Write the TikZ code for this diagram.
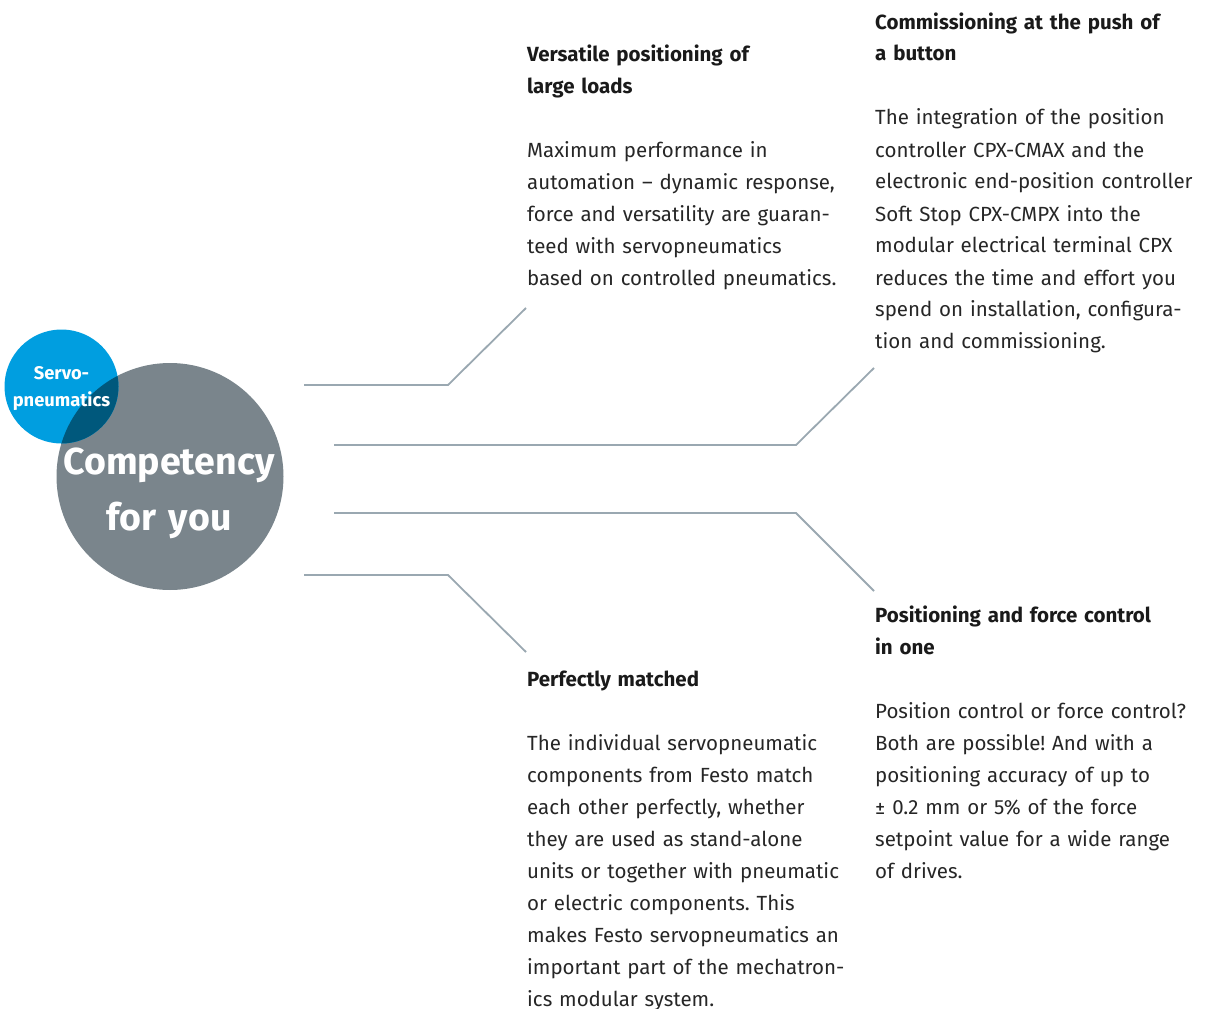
\documentclass[tikz,border=0pt]{standalone}
\usepackage{fontspec}
\setmainfont{Fira Sans}
\frenchspacing
\definecolor{festoblue}{HTML}{009EE0}
\definecolor{festogray}{HTML}{7A858C}
\definecolor{overlapblue}{HTML}{00587C}
\definecolor{linegray}{HTML}{9AA8B1}
\definecolor{headtext}{HTML}{1A1A1A}
\definecolor{bodytext}{HTML}{262626}
\begin{document}
\begin{tikzpicture}[x=1pt,y=-1pt,
  conn/.style={draw=linegray,line width=1.8pt},
  textblock/.style={anchor=base west,inner sep=0pt,text width=340pt,align=left,
    text=bodytext,font=\fontsize{20.5}{32}\selectfont}]
\useasboundingbox (0,0) rectangle (1208,1009);
% circles
\node[circle,fill=festogray,minimum size=227pt,inner sep=0pt] (big) at (170,476.5) {};
\node[circle,fill=festoblue,minimum size=114pt,inner sep=0pt] (small) at (61.5,386.5) {};
\begin{scope}
  \clip (61.5,386.5) circle (57pt);
  \fill[overlapblue] (170,476.5) circle (113.5pt);
\end{scope}
\node[text=white,font=\bfseries\fontsize{18.3}{27}\selectfont,align=center,inner sep=0pt] (servo) at (61.5,389) {Servo-\\pneumatics};
\node[text=white,font=\bfseries\fontsize{37.5}{56}\selectfont,text width=240pt,align=center,inner sep=0pt,anchor=base] (comp) at (169,474) {Competency\\for you};
% connector coordinates
\coordinate (a0) at (304,385);  \coordinate (a1) at (448,385);  \coordinate (a2) at (526,308);
\coordinate (b0) at (334,445);  \coordinate (b1) at (796,445);  \coordinate (b2) at (874,368);
\coordinate (c0) at (334,513);  \coordinate (c1) at (796,513);  \coordinate (c2) at (874,591);
\coordinate (d0) at (304,575);  \coordinate (d1) at (448,575);  \coordinate (d2) at (526,652);
\draw[conn] (a0) -- (a1) -- (a2);
\draw[conn] (b0) -- (b1) -- (b2);
\draw[conn] (c0) -- (c1) -- (c2);
\draw[conn] (d0) -- (d1) -- (d2);
% text blocks
\node[textblock] (t1) at (527,61) {{\bfseries\color{headtext}Versatile positioning of\\large loads}\\[32pt]
Maximum performance in\\automation – dynamic response,\\force and versatility are guaran-\\teed with servopneumatics\\based on controlled pneumatics.};
\node[textblock] (t2) at (875,29) {{\bfseries\color{headtext}Commissioning at the push of\\a button}\\[32pt]
The integration of the position\\controller CPX-CMAX and the\\electronic end-position controller\\Soft Stop CPX-CMPX into the\\modular electrical terminal CPX\\reduces the time and effort you\\spend on installation, configura-\\tion and commissioning.};
\node[textblock] (t3) at (875,622) {{\bfseries\color{headtext}Positioning and force control\\in one}\\[32pt]
Position control or force control?\\Both are possible! And with a\\positioning accuracy of up to\\± 0.2 mm or 5\% of the force\\setpoint value for a wide range\\of drives.};
\node[textblock] (t4) at (527,686) {{\bfseries\color{headtext}Perfectly matched}\\[32pt]
The individual servopneumatic\\components from Festo match\\each other perfectly, whether\\they are used as stand-alone\\units or together with pneumatic\\or electric components. This\\makes Festo servopneumatics an\\important part of the mechatron-\\ics modular system.};
\end{tikzpicture}
\end{document}
